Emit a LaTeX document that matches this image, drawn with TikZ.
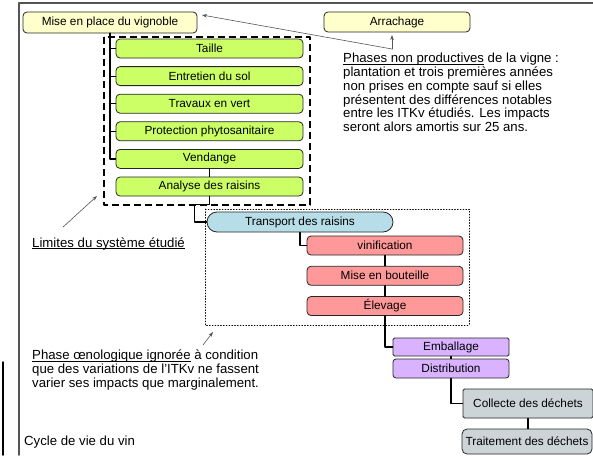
\documentclass[tikz,border=0pt]{standalone}
\usepackage{fontspec}
\setmainfont{Liberation Sans}
\usetikzlibrary{arrows.meta,calc}
\definecolor{palecream}{HTML}{FFFFCC}
\definecolor{vinegreen}{HTML}{CCFF66}
\definecolor{transportblue}{HTML}{B7DEE8}
\definecolor{winered}{HTML}{FF9999}
\definecolor{packlilac}{HTML}{D9B3FF}
\definecolor{wastegrey}{HTML}{CCD4D8}
\definecolor{framegrey}{HTML}{555555}
% underline close to the baseline, without extra depth
\newcommand{\keyword}[1]{\setbox0=\hbox{#1}\rlap{\rule[-2.2pt]{\wd0}{0.8pt}}\box0\relax}
\tikzset{
    box/.style={
        draw=black!85, line width=0.8pt, rounded corners=4pt,
        minimum height=19pt, inner sep=0pt,
        font=\fontsize{11.8}{13}\selectfont
    },
    note/.style={
        align=left, inner sep=0pt,
        font=\fontsize{13.2}{13.8}\selectfont
    },
    link/.style={line width=1.2pt},
    pointer/.style={
        draw=framegrey, line width=0.6pt,
        -{Stealth[length=5pt,width=3.5pt]}
    }
}

\begin{document}
\begin{tikzpicture}[x=1pt,y=-1pt,line cap=round,line join=round]
\useasboundingbox (0,0) rectangle (593,455);

% slide frame, cut by the picture edge
\draw[framegrey, line width=1.5pt] (19,455) -- (19,3) -- (593,3);
\draw[line width=1.5pt] (3,362) -- (3,455);

% system boundary (dashed) and ignored oenological phase (dotted)
\draw[line width=2pt, dash pattern=on 7pt off 4pt, line cap=butt] (104,37) rectangle (310,205);
\draw[line width=0.8pt, dotted] (205,209) rectangle (469,325);

% non productive phases
\node[box, fill=palecream, minimum width=174pt, minimum height=21pt] (mise) at (110,22.5) {Mise en place du vignoble};
\node[box, fill=palecream, minimum width=146pt, minimum height=20pt] (arrachage) at (397,22) {Arrachage};

% vineyard work
\foreach \name/\label [count=\i from 0] in {taille/Taille, sol/Entretien du sol, vert/Travaux en vert,
    phyto/Protection phytosanitaire, vendange/Vendange, analyse/Analyse des raisins} {
  \node[box, fill=vinegreen, minimum width=187pt] (\name) at (209.5,{48.5+27.6*\i}) {\label};
}

\node[box, fill=transportblue, minimum width=186pt, minimum height=20pt, rounded corners=10pt] (transport) at (300,222) {Transport des raisins};

% cellar
\foreach \name/\label [count=\i from 0] in {vinif/vinification, bouteille/Mise en bouteille, elevage/Élevage} {
  \node[box, fill=winered, minimum width=156pt] (\name) at (385,{245.5+30.25*\i}) {\label};
}

% packaging and waste
\node[box, fill=packlilac, minimum width=116pt, minimum height=18pt, rounded corners=1.5pt] (emballage) at (451,347) {Emballage};
\node[box, fill=packlilac, minimum width=116pt, rounded corners=3pt] (distribution) at (451,368.5) {Distribution};
\node[box, fill=wastegrey, minimum width=130pt, minimum height=29pt, rounded corners=1.5pt] (collecte) at (528,403.5) {Collecte des déchets};
\node[box, fill=wastegrey, minimum width=130pt, minimum height=25pt, rounded corners=5pt] (traitement) at (527,441.5) {Traitement des déchets};

% tree links
\foreach \name in {taille,sol,vert,phyto,vendange} {
  \draw[link] (mise.south) |- (\name.west);
}
\draw[link] (vendange) -- (analyse);
\draw[link] (analyse.south) -- ++(0,8) -| ($(transport.west)+(-12,0)$) -- (transport.west);
\draw[link] (transport.south) |- (vinif.west);
\draw[link] (vinif) -- (bouteille);
\draw[link] (bouteille) -- (elevage);
\draw[link] (elevage.south) |- (emballage.west);
\draw[link] (emballage) -- (distribution);
\draw[link] (distribution.south) |- (collecte.west);
\draw[link] (collecte.south) -- (collecte.south |- traitement.north);

% comments
\node[note, anchor=north west] (phases) at (343,53) {\keyword{Phases non productives} de la vigne :\\
  plantation et trois premières années\\
  non prises en compte sauf si elles\\
  présentent des différences notables\\
  entre les ITKv étudiés. Les impacts\\
  seront alors amortis sur 25 ans.};
\node[note, anchor=base west] (limites) at (32,247) {\keyword{Limites du système étudié}};
\node[note, anchor=north west] (oeno) at (32,350) {\keyword{Phase œnologique ignorée} à condition\\
  que des variations de l’ITKv ne fassent\\
  varier ses impacts que marginalement.};
\node[note, anchor=base west] (cycle) at (24,445) {Cycle de vie du vin};

% pointers
\coordinate (knee) at (392,49);
\coordinate (misetip) at (202,15);
\coordinate (arrtip) at (392,35);
\coordinate (dashtip) at (97,196);
\coordinate (dottip) at (213,332);
\draw[pointer] (knee) -- (misetip);
\draw[pointer] (knee) -- (arrtip);
\draw[pointer] ($(limites.north west)+(31,-10)$) -- (dashtip);
\draw[pointer] ($(oeno.north west)+(171,-5)$) -- (dottip);

\end{tikzpicture}
\end{document}
